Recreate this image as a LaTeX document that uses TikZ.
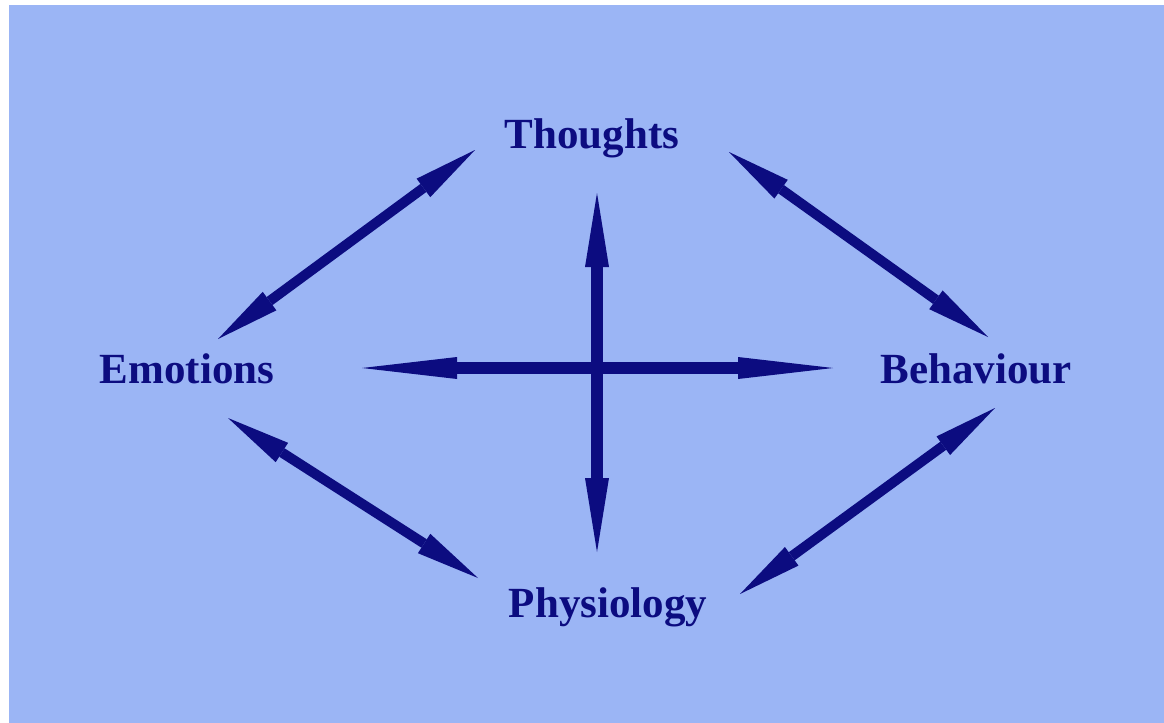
\documentclass[tikz,border=0pt]{standalone}
\usepackage{fontspec}
\setmainfont{Liberation Serif}
\usepackage{tikz}
\usetikzlibrary{arrows.meta}

\definecolor{skyback}{RGB}{155,181,245}
\definecolor{inkblue}{RGB}{12,12,128}

\begin{document}
\begin{tikzpicture}[
  x=0.5pt, y=-0.5pt,
  term/.style={font=\fontsize{21.5}{26}\selectfont\bfseries, text=inkblue,
    anchor=base, inner sep=0pt},
  link/.style={draw=inkblue, line width=5pt,
    {Triangle[length=32pt,width=11.5pt,line width=0pt]}-{Triangle[length=32pt,width=11.5pt,line width=0pt]}},
  hbar/.style={draw=inkblue, line width=6pt,
    {Triangle[length=47.5pt,width=11pt,line width=0pt]}-{Triangle[length=47.5pt,width=11pt,line width=0pt]}},
  vbar/.style={draw=inkblue, line width=6pt,
    {Triangle[length=37pt,width=12pt,line width=0pt]}-{Triangle[length=37pt,width=12pt,line width=0pt]}},
]
  % page and backdrop
  \fill[white] (0,0) rectangle (1164,723);
  \fill[skyback] (9,5) rectangle (1164,723);
  \useasboundingbox (0,0) rectangle (1164,723);

  % the four terms
  \node[term] (thoughts)   at (592,148) {Thoughts};
  \node[term] (emotions)   at (187,383) {Emotions};
  \node[term] (behaviour)  at (976,383) {Behaviour};
  \node[term] (physiology) at (608,617) {Physiology};

  % arrow ends
  \coordinate (tl-a) at (475,150);
  \coordinate (tl-b) at (218,339);
  \coordinate (tr-a) at (729,152);
  \coordinate (tr-b) at (988,337);
  \coordinate (bl-a) at (228,418);
  \coordinate (bl-b) at (478,578);
  \coordinate (br-a) at (995,408);
  \coordinate (br-b) at (740,594);
  \coordinate (mid-w) at (362,368);
  \coordinate (mid-e) at (833,368);
  \coordinate (mid-n) at (597,193);
  \coordinate (mid-s) at (597,552);

  % outer links
  \draw[link] (tl-b) -- (tl-a);
  \draw[link] (tr-a) -- (tr-b);
  \draw[link] (bl-a) -- (bl-b);
  \draw[link] (br-b) -- (br-a);

  % central cross
  \draw[hbar] (mid-w) -- (mid-e);
  \draw[vbar] (mid-n) -- (mid-s);
\end{tikzpicture}
\end{document}
